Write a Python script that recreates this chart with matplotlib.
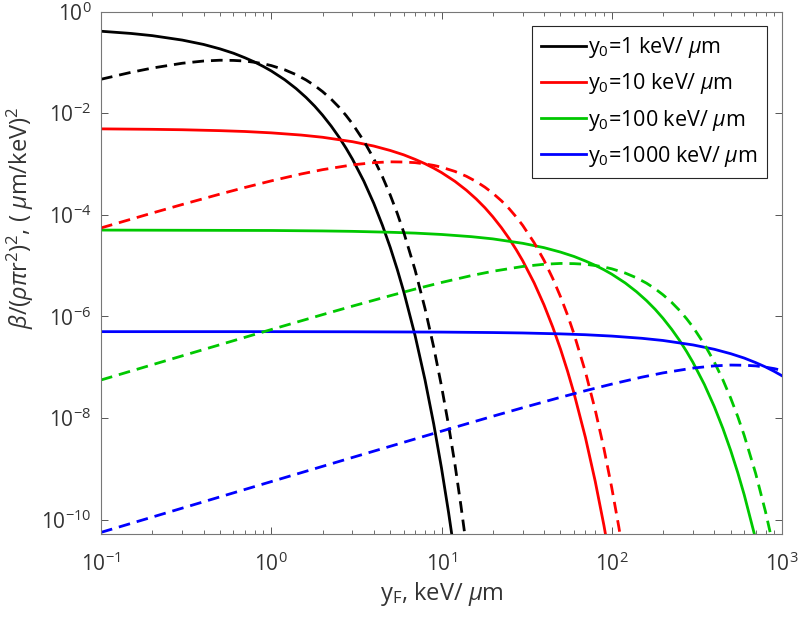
import matplotlib
matplotlib.use("Agg")
import matplotlib.pyplot as plt

plt.rcParams["font.family"] = ["Open Sans", "DejaVu Sans"]
plt.rcParams["mathtext.fontset"] = "custom"
plt.rcParams["mathtext.rm"] = "Open Sans"
plt.rcParams["mathtext.it"] = "Open Sans:italic"
plt.rcParams["mathtext.bf"] = "Open Sans:bold"
plt.rcParams["axes.unicode_minus"] = False

# 実線 (y0 = 1, 10, 100, 1000 keV/um) -- 図から読み取った値
x_solid_1 = [0.1, 0.15, 0.2, 0.3, 0.4, 0.5, 0.6, 0.7, 0.8, 0.9, 1.0, 1.2, 1.4,
             1.6, 1.8, 2.0, 2.25, 2.5, 2.75, 3.0, 3.5, 4.0, 4.5, 5.0, 5.5, 6,
             7, 8, 9, 10, 11, 12]
y_solid_1 = [0.409, 0.370, 0.335, 0.274, 0.225, 0.184, 0.151, 0.123, 0.101,
             0.0826, 0.0677, 0.0454, 0.0304, 0.0204, 0.0137, 9.16e-3, 5.55e-3,
             3.37e-3, 2.04e-3, 1.24e-3, 4.56e-4, 1.68e-4, 6.17e-5, 2.27e-5,
             8.35e-6, 3.07e-6, 4.16e-7, 5.63e-8, 7.62e-9, 1.03e-9, 1.39e-10,
             1.89e-11]

x_solid_10 = [0.1, 0.2, 0.3, 0.5, 0.7, 1, 1.5, 2, 3, 4, 5, 6, 7, 8, 9, 10, 12,
              14, 16, 18, 20, 22.5, 25, 27.5, 30, 35, 40, 45, 50, 55, 60, 70,
              80, 90, 100]
y_solid_10 = [4.90e-3, 4.80e-3, 4.71e-3, 4.52e-3, 4.35e-3, 4.09e-3, 3.70e-3,
              3.35e-3, 2.74e-3, 2.25e-3, 1.84e-3, 1.51e-3, 1.23e-3, 1.01e-3,
              8.26e-4, 6.77e-4, 4.54e-4, 3.04e-4, 2.04e-4, 1.37e-4, 9.16e-5,
              5.55e-5, 3.37e-5, 2.04e-5, 1.24e-5, 4.56e-6, 1.68e-6, 6.17e-7,
              2.27e-7, 8.35e-8, 3.07e-8, 4.16e-9, 5.63e-10, 7.62e-11, 1.03e-11]

x_solid_100 = [0.1, 1, 2, 3, 5, 7, 10, 15, 20, 30, 40, 50, 60, 70, 80, 90, 100,
               120, 140, 160, 180, 200, 225, 250, 275, 300, 350, 400, 450, 500,
               550, 600, 700, 800]
y_solid_100 = [4.99e-5, 4.90e-5, 4.80e-5, 4.71e-5, 4.52e-5, 4.35e-5, 4.09e-5,
               3.70e-5, 3.35e-5, 2.74e-5, 2.25e-5, 1.84e-5, 1.51e-5, 1.23e-5,
               1.01e-5, 8.26e-6, 6.77e-6, 4.54e-6, 3.04e-6, 2.04e-6, 1.37e-6,
               9.16e-7, 5.55e-7, 3.37e-7, 2.04e-7, 1.24e-7, 4.56e-8, 1.68e-8,
               6.17e-9, 2.27e-9, 8.35e-10, 3.07e-10, 4.16e-11, 5.63e-12]

x_solid_1000 = [0.1, 1, 3, 10, 20, 30, 50, 70, 100, 150, 200, 300, 400, 500,
                600, 700, 800, 900, 1000]
y_solid_1000 = [5.0e-7, 5.0e-7, 4.97e-7, 4.90e-7, 4.80e-7, 4.71e-7, 4.52e-7,
                4.35e-7, 4.09e-7, 3.70e-7, 3.35e-7, 2.74e-7, 2.25e-7, 1.84e-7,
                1.51e-7, 1.23e-7, 1.01e-7, 8.26e-8, 6.77e-8]

# 破線
x_dash_1 = [0.1, 0.15, 0.2, 0.3, 0.4, 0.5, 0.6, 0.7, 0.8, 0.9, 1.0, 1.2, 1.4,
            1.6, 1.8, 2.0, 2.25, 2.5, 2.75, 3.0, 3.5, 4.0, 4.5, 5.0, 5.5, 6,
            7, 8, 9, 10, 11, 12, 13, 14]
y_dash_1 = [0.0464, 0.0635, 0.0771, 0.0959, 0.106, 0.110, 0.109, 0.106, 0.100,
            0.0936, 0.0863, 0.0712, 0.0572, 0.0450, 0.0348, 0.0266, 0.0188,
            0.0131, 9.0e-3, 6.16e-3, 2.82e-3, 1.27e-3, 5.59e-4, 2.44e-4,
            1.06e-4, 4.52e-5, 8.13e-6, 1.43e-6, 2.48e-7, 4.24e-8, 7.2e-9,
            1.21e-9, 1.9e-10, 3.0e-11]

x_dash_10 = [0.1, 0.2, 0.3, 0.5, 0.7, 1, 1.5, 2, 3, 4, 5, 6, 7, 8, 9, 10, 12,
             14, 16, 18, 20, 22.5, 25, 27.5, 30, 35, 40, 45, 50, 55, 60, 70, 80,
             90, 100, 110, 120]
y_dash_10 = [5.50e-5, 1.08e-4, 1.59e-4, 2.55e-4, 3.44e-4, 4.64e-4, 6.35e-4,
             7.71e-4, 9.59e-4, 1.06e-3, 1.10e-3, 1.09e-3, 1.06e-3, 1.00e-3,
             9.36e-4, 8.63e-4, 7.12e-4, 5.72e-4, 4.50e-4, 3.48e-4, 2.66e-4,
             1.88e-4, 1.31e-4, 9.0e-5, 6.16e-5, 2.82e-5, 1.27e-5, 5.59e-6,
             2.44e-6, 1.06e-6, 4.52e-7, 8.13e-8, 1.43e-8, 2.48e-9, 4.24e-10,
             7.2e-11, 1.21e-11]

x_dash_100 = [0.1, 0.3, 1, 2, 3, 5, 7, 10, 15, 20, 30, 40, 50, 60, 70, 80, 90,
              100, 120, 140, 160, 180, 200, 225, 250, 275, 300, 350, 400, 450,
              500, 550, 600, 700, 800, 900]
y_dash_100 = [5.59e-8, 1.67e-7, 5.50e-7, 1.08e-6, 1.59e-6, 2.55e-6, 3.44e-6,
              4.64e-6, 6.35e-6, 7.71e-6, 9.59e-6, 1.06e-5, 1.10e-5, 1.09e-5,
              1.06e-5, 1.00e-5, 9.36e-6, 8.63e-6, 7.12e-6, 5.72e-6, 4.50e-6,
              3.48e-6, 2.66e-6, 1.88e-6, 1.31e-6, 9.0e-7, 6.16e-7, 2.82e-7,
              1.27e-7, 5.59e-8, 2.44e-8, 1.06e-8, 4.52e-9, 8.13e-10, 1.43e-10,
              2.48e-11]

x_dash_1000 = [0.1, 0.3, 1, 3, 10, 20, 30, 50, 70, 100, 150, 200, 300, 400,
               500, 600, 700, 800, 900, 1000]
y_dash_1000 = [5.6e-11, 1.68e-10, 5.59e-10, 1.67e-9, 5.50e-9, 1.08e-8,
               1.59e-8, 2.55e-8, 3.44e-8, 4.64e-8, 6.35e-8, 7.71e-8, 9.59e-8,
               1.06e-7, 1.10e-7, 1.09e-7, 1.06e-7, 1.00e-7, 9.36e-8, 8.63e-8]

labels = [r"y$_0$=1 keV/ $\mu$m", r"y$_0$=10 keV/ $\mu$m",
          r"y$_0$=100 keV/ $\mu$m", r"y$_0$=1000 keV/ $\mu$m"]
colors = ["black", "#ff0000", "#00c800", "#0000ff"]

solid = [(x_solid_1, y_solid_1), (x_solid_10, y_solid_10),
         (x_solid_100, y_solid_100), (x_solid_1000, y_solid_1000)]
dashed = [(x_dash_1, y_dash_1), (x_dash_10, y_dash_10),
          (x_dash_100, y_dash_100), (x_dash_1000, y_dash_1000)]

fig = plt.figure(figsize=(8, 6.19), dpi=100)
ax = fig.add_axes([0.12625, 0.1373, 0.85125, 0.8441])

for (xs, ys), c, lab in zip(solid, colors, labels):
    ax.plot(xs, ys, color=c, lw=2, label=lab)
for (xs, ys), c in zip(dashed, colors):
    ax.plot(xs, ys, color=c, lw=2, linestyle=(0, (4.2, 2.5)))

ax.set_xscale("log")
ax.set_yscale("log")
ax.set_xlim(0.1, 1000)
ax.set_ylim(5.2e-11, 1)
ax.set_yticks([1e-10, 1e-8, 1e-6, 1e-4, 1e-2, 1e0])
ax.yaxis.set_minor_locator(matplotlib.ticker.NullLocator())

gray = "#333333"
for s in ax.spines.values():
    s.set_color("#777777")
    s.set_linewidth(0.8)
ax.tick_params(which="both", direction="in", top=True, right=True,
               colors="#555555", labelcolor=gray, labelsize=15)
ax.tick_params(which="major", length=5, width=0.7)
ax.tick_params(which="minor", length=3, width=0.6)
ax.tick_params(axis="x", which="major", pad=13)
ax.tick_params(axis="y", which="major", pad=7)

ax.set_xlabel(r"y$_\mathrm{F}$, keV/ $\mu$m", fontsize=17, color=gray,
              labelpad=3)
ax.set_ylabel(r"$\beta$/($\rho\pi$r$^2$)$^2$, ( $\mu$m/keV)$^2$",
              fontsize=17, color=gray)
ax.yaxis.set_label_coords(-0.095, 0.605)

leg = ax.legend(loc="upper right", bbox_to_anchor=(0.978, 0.972),
                borderaxespad=0, fontsize=15.5, handlelength=2.1,
                handletextpad=0.1, labelspacing=0.52, fancybox=False,
                framealpha=1, edgecolor="#262626", borderpad=0.42)
leg.get_frame().set_linewidth(0.8)

plt.savefig("out.png", dpi=100)
